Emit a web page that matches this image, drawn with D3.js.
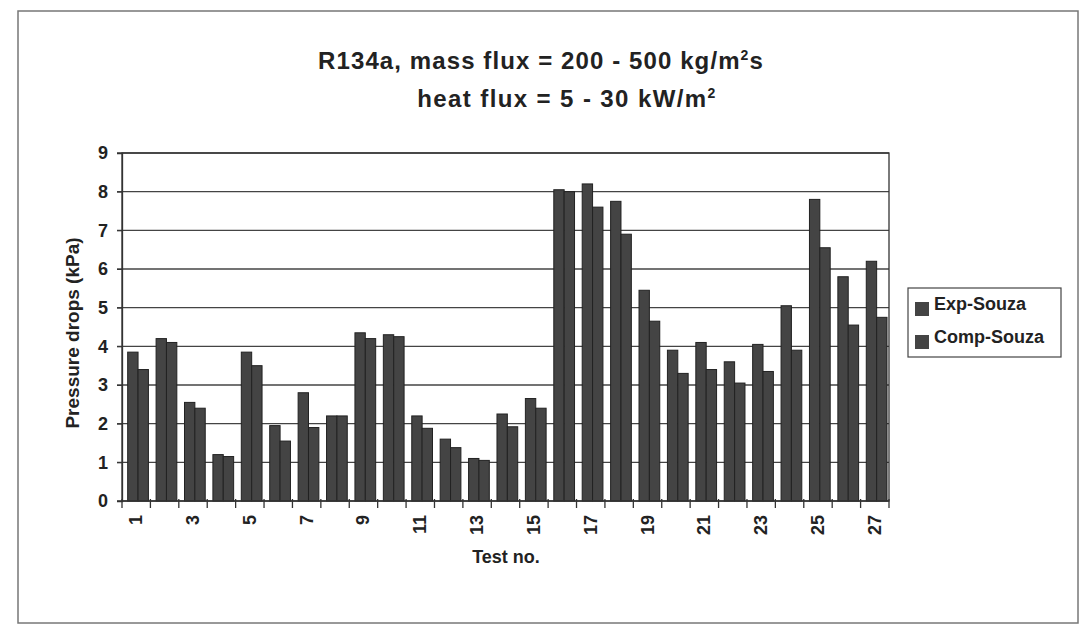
<!DOCTYPE html>
<html><head><meta charset="utf-8">
<script src="https://cdn.jsdelivr.net/npm/d3@7"></script>
<style>body{margin:0;background:#fff}svg{display:block}text{font-family:"Liberation Sans",Arial,sans-serif;font-weight:bold;fill:#222}</style>
</head><body><svg id="c" width="1086" height="627"></svg>
<script>
const tests = d3.range(1, 28).map(String);
const tickLabels = tests.filter((d, i) => i % 2 === 0);
const seriesNames = ["Exp-Souza", "Comp-Souza"];
const expSouza = [3.85,4.2,2.55,1.2,3.85,1.95,2.8,2.2,4.35,4.3,2.2,1.6,1.1,2.25,2.65,8.05,8.2,7.75,5.45,3.9,4.1,3.6,4.05,5.05,7.8,5.8,6.2];
const compSouza = [3.4,4.1,2.4,1.15,3.5,1.55,1.9,2.2,4.2,4.25,1.88,1.38,1.05,1.92,2.4,8.0,7.6,6.9,4.65,3.3,3.4,3.05,3.35,3.9,6.55,4.55,4.75];
const yTicks = d3.range(0, 10);

const svg = d3.select("#c");
const L = 122, R = 889, T = 153, B = 501;
const x = d3.scaleBand().domain(tests).range([L, R]).padding(0);
const y = d3.scaleLinear().domain([0, 9]).range([B, T]);
const bw = x.bandwidth();
const x1 = d3.scaleBand().domain(seriesNames).range([bw * 0.2, bw * 0.93]).padding(0);

// outer frame
svg.append("rect").attr("x", 18).attr("y", 11).attr("width", 1060).attr("height", 612)
  .attr("fill", "none").attr("stroke", "#777").attr("stroke-width", 1.5);

// title
svg.append("text").attr("x", 541).attr("y", 69).attr("text-anchor", "middle").style("font-size", "24px").style("letter-spacing", "1.1px")
  .html('R134a, mass flux = 200 - 500 kg/m<tspan dy="-9" style="font-size:14px">2</tspan><tspan dy="9">s</tspan>');
svg.append("text").attr("x", 567).attr("y", 107).attr("text-anchor", "middle").style("font-size", "24px").style("letter-spacing", "1.4px")
  .html('heat flux = 5 - 30 kW/m<tspan dy="-9" style="font-size:14px">2</tspan>');

// gridlines
svg.append("g").selectAll("line").data(yTicks.filter(d => d > 0)).join("line")
  .attr("x1", L - 5).attr("x2", R).attr("y1", d => y(d)).attr("y2", d => y(d))
  .attr("stroke", "#444").attr("stroke-width", 1.3);

// plot border
svg.append("rect").attr("x", L).attr("y", T).attr("width", R - L).attr("height", B - T)
  .attr("fill", "none").attr("stroke", "#333").attr("stroke-width", 1.3);

// bars
const data = tests.map((t, i) => ({t, vals: [{s: seriesNames[0], v: expSouza[i]}, {s: seriesNames[1], v: compSouza[i]}]}));
svg.append("g").selectAll("g").data(data).join("g")
  .attr("transform", d => `translate(${x(d.t)},0)`)
  .selectAll("rect").data(d => d.vals).join("rect")
  .attr("x", d => x1(d.s)).attr("width", x1.bandwidth())
  .attr("y", d => y(d.v)).attr("height", d => y(0) - y(d.v))
  .attr("fill", "#444").attr("stroke", "#222").attr("stroke-width", 1);

// y axis
const ya = svg.append("g").attr("transform", `translate(${L},0)`)
  .call(d3.axisLeft(y).tickValues(yTicks).tickSize(5).tickPadding(9));
ya.select(".domain").attr("stroke", "#333").attr("stroke-width", 1.3);
ya.selectAll("line").attr("stroke", "#333");
ya.selectAll("text").style("font-size", "18px").style("font-family", '"Liberation Sans",Arial,sans-serif').style("font-weight", "bold").attr("fill", "#222");

// x axis: ticks at category boundaries
svg.append("line").attr("x1", L - 5).attr("x2", R).attr("y1", B).attr("y2", B).attr("stroke", "#333").attr("stroke-width", 1.3);
svg.append("g").selectAll("line").data(tests.concat(["end"])).join("line")
  .attr("x1", (d, i) => L + i * bw).attr("x2", (d, i) => L + i * bw)
  .attr("y1", B - 2).attr("y2", B + 7).attr("stroke", "#333").attr("stroke-width", 1.3);
svg.append("g").selectAll("text").data(tickLabels).join("text")
  .attr("transform", d => `translate(${x(d) + bw / 2 + 6},${B + 14}) rotate(-90)`)
  .attr("text-anchor", "end").style("font-size", "18px").text(d => d);

// axis titles
svg.append("text").attr("x", 506).attr("y", 563).attr("text-anchor", "middle").style("font-size", "18px").text("Test no.");
svg.append("text").attr("transform", "translate(79,333) rotate(-90)").attr("text-anchor", "middle").style("font-size", "19px").text("Pressure drops (kPa)");

// legend
const lg = svg.append("g").attr("transform", "translate(908,288)");
lg.append("rect").attr("width", 153).attr("height", 69).attr("fill", "#fff").attr("stroke", "#444").attr("stroke-width", 1.2);
const li = lg.selectAll("g").data(seriesNames).join("g").attr("transform", (d, i) => `translate(7,${14 + i * 33})`);
li.append("rect").attr("y", 0).attr("width", 14).attr("height", 14).attr("fill", "#444");
li.append("text").attr("x", 19).attr("y", 8).style("font-size", "18px").text(d => d);
</script></body></html>
